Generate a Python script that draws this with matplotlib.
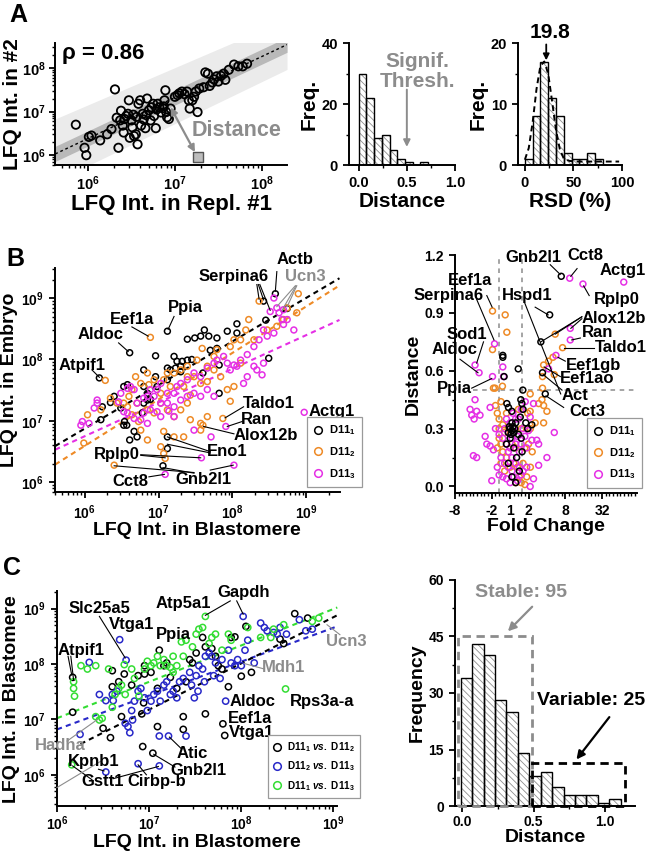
import numpy as np
import matplotlib
matplotlib.use('Agg')
import matplotlib.pyplot as plt
from matplotlib.lines import Line2D
from matplotlib.patches import Rectangle
from matplotlib.ticker import MultipleLocator, NullFormatter, FixedLocator, FixedFormatter

plt.rcParams.update({
    'font.family': ['Liberation Sans', 'DejaVu Sans'],
    'font.weight': 'bold',
    'axes.labelweight': 'bold',
    'axes.linewidth': 1.4,
    'xtick.major.width': 1.3, 'ytick.major.width': 1.3,
    'xtick.minor.width': 1.0, 'ytick.minor.width': 1.0,
    'xtick.major.size': 4.5, 'ytick.major.size': 4.5,
    'xtick.minor.size': 2.5, 'ytick.minor.size': 2.5,
    'xtick.labelsize': 10, 'ytick.labelsize': 10,
    'mathtext.fontset': 'custom',
    'mathtext.rm': 'Liberation Sans:bold',
    'mathtext.bf': 'Liberation Sans:bold',
    'mathtext.it': 'Liberation Sans:italic:bold',
    'hatch.linewidth': 0.6,
})

ORANGE = '#EE8A26'
MAGENTA = '#E52FE5'
BLUE = '#2828C8'
GREEN = '#33DD33'
GRAY = '#8C8C8C'

# ---------------- panel A: replicate scatter (log10 intensities) ----------------
a_rep1_log = [5.86, 5.96, 5.98, 6.01, 6.04, 6.14, 6.22, 6.27, 6.31, 6.33, 6.35, 6.37, 6.38, 6.40, 6.41,
              6.42, 6.44, 6.46, 6.47, 6.48, 6.50, 6.51, 6.52, 6.53, 6.55, 6.56, 6.57, 6.58, 6.60, 6.61,
              6.63, 6.64, 6.66, 6.67, 6.68, 6.70, 6.72, 6.73, 6.75, 6.76, 6.78, 6.79, 6.80, 6.82, 6.84,
              6.86, 6.87, 6.88, 6.89, 6.90, 6.91, 6.93, 6.95, 7.00, 7.03, 7.05, 7.08, 7.11, 7.14, 7.16,
              7.17, 7.20, 7.22, 7.24, 7.26, 7.28, 7.33, 7.35, 7.38, 7.40, 7.43, 7.45, 7.48, 7.50, 7.53,
              7.56, 7.58, 7.62, 7.68, 7.73, 7.78, 7.83]
a_rep2_log = [6.70, 6.17, 6.00, 6.42, 6.45, 6.34, 6.48, 6.60, 7.51, 6.86, 6.17, 6.80, 7.02, 6.68, 6.52,
              6.83, 6.90, 6.95, 7.26, 6.40, 6.80, 6.64, 6.93, 6.44, 6.48, 6.88, 6.25, 7.18, 7.26, 6.68,
              6.95, 6.82, 6.62, 6.92, 7.30, 7.03, 6.80, 7.10, 7.18, 6.90, 6.62, 7.05, 7.18, 7.10, 6.98,
              7.08, 7.12, 7.26, 7.49, 6.99, 6.87, 6.83, 7.07, 7.34, 7.38, 7.42, 7.46, 7.40, 7.46, 7.26,
              7.07, 7.26, 7.34, 7.46, 6.99, 7.53, 7.56, 7.90, 7.87, 7.59, 7.67, 7.74, 7.81, 7.69, 7.82,
              7.87, 7.73, 7.96, 8.08, 8.04, 8.04, 8.10]
a_outlier_log = (7.26, 5.96)
a_fit_x = [4.2e5, 1.95e8]
a_fit_y = [1.07e6, 3.45e8]
a_band_outer_lo = [2.5e5, 9.3e7]
a_band_outer_hi = [6.8e6, 1.3e9]
a_band_inner_lo = [7.2e5, 2.3e8]
a_band_inner_hi = [1.6e6, 5.1e8]

dist_left = [0.0, 0.08, 0.16, 0.24, 0.32, 0.40, 0.48, 0.56, 0.64]
dist_freq = [30, 22, 9, 10, 5, 2, 1, 0, 1]
rsd_left = [0, 8, 16, 24, 32, 40, 48, 56, 64, 72]
rsd_freq = [1, 8, 17, 11, 8, 2, 1, 1, 2, 1]
rsd_fit_x = [0, 4, 8, 12, 16, 20, 24, 28, 32, 36, 40, 46, 55, 70, 97]
rsd_fit_y = [0.9, 2.8, 7.0, 12.5, 16.3, 17.0, 15.0, 10.5, 5.8, 2.6, 1.1, 0.7, 0.6, 0.6, 0.6]

# ---------------- panel B left: embryo vs blastomere (log10) ----------------
b_d1 = [(8.58, 9.07), (8.42, 8.95), (8.45, 8.64), (8.49, 8.02), (8.74, 8.83), (7.12, 8.46), (6.61, 8.11),
        (6.20, 7.70), (6.96, 8.06), (6.80, 7.83), (7.12, 7.86), (7.16, 7.83), (7.39, 8.33), (7.49, 8.35),
        (7.57, 8.38), (7.62, 8.48), (7.68, 8.38), (7.79, 8.35), (7.93, 8.46), (8.06, 8.58), (8.06, 8.43),
        (7.82, 7.91), (7.79, 8.18), (7.21, 8.05), (7.25, 7.97), (7.32, 7.97), (7.39, 7.99), (7.30, 7.89),
        (7.23, 7.86), (7.12, 7.67), (6.98, 7.56), (6.85, 7.45), (6.80, 7.56), (6.53, 7.56), (6.58, 7.59),
        (6.49, 7.21), (6.54, 6.99), (6.57, 6.93), (6.61, 6.69), (6.67, 6.83), (6.71, 6.74), (6.78, 7.13),
        (6.80, 7.29), (6.85, 7.34), (6.89, 7.35), (6.22, 7.02), (6.53, 6.93), (7.12, 6.74), (7.12, 6.55),
        (7.06, 6.27), (7.82, 7.45), (6.24, 7.23), (6.96, 7.72), (7.30, 7.80), (7.45, 8.00), (7.60, 7.78),
        (7.70, 8.15), (6.40, 7.40), (6.35, 7.30)]
b_d2 = [(8.89, 9.07), (8.36, 8.95), (8.74, 8.84), (8.87, 8.76), (8.22, 8.65), (8.18, 8.48), (8.11, 8.32),
        (8.02, 8.32), (7.97, 8.21), (7.79, 8.16), (7.75, 8.05), (7.59, 8.18), (7.52, 7.99), (7.66, 7.89),
        (7.75, 7.83), (7.39, 7.89), (7.30, 7.83), (7.21, 7.78), (7.39, 7.72), (7.48, 7.72), (7.57, 7.61),
        (7.66, 7.64), (7.84, 7.72), (7.93, 7.51), (7.97, 7.32), (7.43, 7.42), (7.34, 7.56), (7.16, 7.56),
        (7.07, 7.67), (6.94, 7.67), (6.85, 7.78), (6.76, 7.61), (6.69, 7.72), (6.64, 7.51), (6.60, 7.40),
        (6.53, 7.29), (6.71, 7.29), (6.85, 7.18), (6.94, 7.13), (7.03, 7.29), (7.12, 7.18), (7.21, 7.07),
        (7.30, 7.18), (7.43, 7.02), (7.57, 6.96), (7.66, 7.07), (7.57, 6.85), (7.34, 6.74), (7.21, 6.74),
        (7.07, 6.83), (7.03, 6.58), (7.07, 6.47), (7.09, 6.39), (6.85, 6.69), (6.76, 6.85), (6.73, 6.99),
        (6.64, 7.10), (6.58, 7.23), (6.44, 7.29), (6.35, 7.37), (6.22, 7.18), (6.04, 7.10), (5.99, 6.64),
        (6.40, 6.28), (7.60, 6.93), (7.87, 7.04), (6.89, 8.36), (6.28, 7.66), (8.02, 7.56), (8.11, 7.94),
        (8.29, 8.32), (8.47, 8.48), (8.60, 8.54), (8.69, 8.65), (7.12, 7.78), (7.03, 7.45), (7.39, 7.29),
        (6.87, 7.59)]
b_d3 = [(8.56, 9.00), (8.60, 8.84), (8.51, 8.78), (8.69, 8.81), (8.63, 8.76), (8.67, 8.65), (8.74, 8.65),
        (8.83, 8.48), (8.69, 8.57), (8.56, 8.43), (8.47, 8.38), (8.42, 8.48), (8.36, 8.32), (8.29, 8.21),
        (8.20, 8.08), (8.11, 7.99), (8.02, 7.91), (7.97, 7.83), (7.88, 8.05), (7.93, 7.94), (7.79, 7.99),
        (7.75, 7.94), (7.66, 7.86), (7.57, 7.72), (7.48, 7.78), (7.39, 7.67), (7.30, 7.61), (7.25, 7.56),
        (7.21, 7.45), (7.12, 7.45), (7.03, 7.61), (6.98, 7.51), (6.89, 7.51), (6.85, 7.40), (6.80, 7.37),
        (6.71, 7.29), (6.67, 7.51), (6.62, 7.56), (6.58, 7.53), (6.49, 7.45), (7.12, 7.29), (7.21, 7.23),
        (7.30, 7.34), (7.39, 7.40), (7.48, 7.45), (7.66, 7.51), (7.75, 7.40), (7.57, 7.40), (6.94, 7.40),
        (7.03, 7.29), (7.14, 7.16), (7.21, 7.07), (7.03, 7.07), (6.98, 7.15), (6.89, 7.18), (6.80, 7.13),
        (6.76, 7.02), (6.85, 6.96), (6.67, 7.04), (6.58, 7.13), (6.53, 7.15), (6.46, 7.31), (6.17, 7.29),
        (6.17, 7.34), (6.13, 7.21), (5.97, 6.99), (5.95, 6.93), (6.06, 6.96), (7.48, 6.85), (7.71, 6.74),
        (7.91, 6.91), (7.58, 6.40), (8.02, 6.28), (7.09, 6.13), (8.97, 7.14), (8.29, 7.89), (8.33, 7.83),
        (8.42, 7.94), (8.20, 7.72), (8.15, 7.61), (8.06, 7.89), (8.40, 7.75)]
b_fit_x = [4.0e5, 2.8e9]
b_fit_d1 = [3.9e6, 2.1e9]
b_fit_d2 = [1.95e6, 1.6e9]
b_fit_d3 = [3.4e6, 4.4e8]
# label text, x, y (log10), colour
b_left_labels = [('Actb', 8.85, 9.62, 'k'), ('Serpina6', 8.02, 9.35, 'k'), ('Ucn3', 8.99, 9.35, GRAY),
                 ('Ppia', 7.36, 8.84, 'k'), ('Eef1a', 6.64, 8.65, 'k'), ('Aldoc', 6.22, 8.40, 'k'),
                 ('Atpif1', 5.97, 7.91, 'k'), ('Taldo1', 8.49, 7.29, 'k'), ('Ran', 8.33, 7.02, 'k'),
                 ('Alox12b', 8.45, 6.77, 'k'), ('Eno1', 7.93, 6.50, 'k'), ('Rplp0', 6.44, 6.46, 'k'),
                 ('Cct8', 6.62, 6.01, 'k'), ('Gnb2l1', 7.61, 6.05, 'k')]
b_left_lines = [((8.60, 9.43), (8.58, 9.11), 'k'),
                ((8.33, 9.22), (8.36, 8.98), 'k'), ((8.35, 9.22), (8.42, 8.97), 'k'), ((8.37, 9.22), (8.51, 8.80), 'k'),
                ((8.85, 9.20), (8.60, 8.86), GRAY), ((8.86, 9.20), (8.67, 8.80), GRAY), ((8.87, 9.20), (8.74, 8.86), GRAY),
                ((7.21, 8.70), (7.13, 8.49), 'k'), ((6.64, 8.53), (6.86, 8.38), 'k'), ((6.46, 8.27), (6.59, 8.13), 'k'),
                ((6.10, 7.83), (6.20, 7.71), 'k'), ((8.15, 7.23), (7.90, 7.05), 'k'), ((8.13, 6.99), (7.93, 6.91), 'k'),
                ((8.02, 6.79), (7.61, 6.91), 'k'), ((7.70, 6.50), (7.12, 6.74), 'k'), ((7.70, 6.48), (7.12, 6.62), 'k'),
                ((6.76, 6.45), (7.57, 6.40), 'k'), ((6.76, 6.44), (7.09, 6.40), 'k'), ((6.87, 6.09), (7.08, 6.13), 'k'),
                ((7.48, 6.16), (6.40, 6.27), 'k'), ((7.48, 6.15), (7.06, 6.24), 'k'), ((7.70, 6.20), (8.01, 6.28), 'k')]

# ---------------- panel B right: distance vs log2 fold change ----------------
fc_d1 = [(2.78, 1.09), (2.15, 0.89), (1.67, 0.75), (1.76, 0.59), (1.91, 0.48), (-0.40, 0.67), (-0.40, 0.68),
         (-0.33, 0.57), (0.44, 0.61), (0.69, 0.50), (0.58, 0.45), (0.64, 0.43), (-0.18, 0.43), (-0.09, 0.41),
         (0.09, 0.39), (1.18, 0.32), (0.00, 0.30), (0.10, 0.29), (0.05, 0.27), (-0.05, 0.31), (0.15, 0.31),
         (0.20, 0.28), (0.00, 0.25), (0.10, 0.33), (-0.10, 0.28), (0.25, 0.30), (0.30, 0.33), (0.45, 0.27),
         (0.60, 0.25), (0.85, 0.33), (0.55, 0.36), (0.70, 0.40), (-0.20, 0.22), (0.20, 0.20), (0.35, 0.15),
         (0.10, 0.05), (0.30, 0.02), (0.50, 0.08), (-0.10, 0.12), (0.65, 0.18), (0.95, 0.30)]
fc_d2 = [(-0.96, 0.91), (-0.27, 0.89), (-0.18, 0.80), (-0.96, 0.71), (-0.91, 0.51), (-0.82, 0.51), (-0.42, 0.52),
         (2.45, 0.79), (2.85, 0.72), (1.82, 0.63), (2.09, 0.65), (2.33, 0.67), (1.76, 0.57), (2.40, 0.58),
         (1.76, 0.51), (1.09, 0.48), (1.73, 0.45), (1.82, 0.42), (2.00, 0.39), (1.82, 0.33), (1.55, 0.43),
         (1.09, 0.39), (1.36, 0.33), (-0.80, 0.42), (-0.70, 0.38), (-0.50, 0.44), (-0.60, 0.35), (-0.40, 0.32),
         (-0.30, 0.28), (-0.60, 0.25), (-0.50, 0.22), (-0.40, 0.18), (-0.70, 0.20), (-0.50, 0.12), (-0.30, 0.08),
         (-0.20, 0.15), (0.00, 0.10), (0.20, 0.12), (0.40, 0.10), (0.50, 0.05), (0.60, 0.02), (0.70, 0.12),
         (0.80, 0.20), (0.90, 0.05), (1.00, 0.22), (1.10, 0.30), (0.95, 0.38), (0.30, 0.20), (0.10, 0.22),
         (-0.10, 0.30), (-0.20, 0.38), (0.30, 0.02), (0.80, 0.01), (1.10, 0.10), (1.20, 0.18), (-0.60, 0.30),
         (0.60, 0.30), (0.45, 0.40)]
fc_d3 = [(3.24, 1.08), (3.96, 1.05), (6.18, 1.06), (3.27, 0.82), (3.27, 0.76), (2.49, 0.68), (2.09, 0.61),
         (-0.85, 0.74), (-0.40, 0.62), (-0.36, 0.57), (-1.91, 0.63), (-1.69, 0.59), (-0.96, 0.57),
         (-2.18, 0.40), (-2.09, 0.37), (-1.82, 0.39), (-1.96, 0.35), (-1.64, 0.37), (-1.91, 0.45), (-1.09, 0.41),
         (-1.36, 0.26), (-1.27, 0.22), (-1.09, 0.21), (-0.91, 0.19), (-2.00, 0.16), (-1.82, 0.15), (-1.00, 0.03),
         (1.09, 0.00), (1.27, 0.04), (1.55, 0.11), (2.00, 0.15), (2.40, 0.28), (1.45, 0.24), (1.18, 0.24),
         (0.82, 0.44), (1.27, 0.43), (1.09, 0.36), (1.00, 0.29), (1.55, 0.22),
         (-0.80, 0.30), (-0.60, 0.27), (-0.40, 0.25), (-0.30, 0.30), (-0.20, 0.22), (-0.10, 0.28), (0.00, 0.20),
         (0.10, 0.25), (0.20, 0.30), (0.30, 0.22), (0.40, 0.26), (0.50, 0.18), (0.60, 0.22), (0.70, 0.30),
         (0.80, 0.26), (0.90, 0.20), (-0.50, 0.15), (-0.30, 0.12), (-0.10, 0.10), (0.10, 0.08), (0.30, 0.12),
         (0.50, 0.10), (0.70, 0.08), (-0.40, 0.05), (-0.20, 0.04), (0.00, 0.02), (0.20, 0.05), (0.40, 0.03),
         (0.60, 0.06), (0.90, 0.10), (-0.70, 0.10), (-0.60, 0.06), (0.10, 0.15), (-0.10, 0.18), (0.30, 0.35),
         (0.15, 0.38), (0.45, 0.35), (0.60, 0.40), (-0.20, 0.35), (0.00, 0.33)]
fc_tick_pos = [-3, -1, 0, 1, 3, 5]
fc_tick_lab = ['-8', '-2', '1', '2', '8', '32']
fc_cut = [-0.58, 0.65]
dist_cut = 0.5
b_right_labels = [('Gnb2l1', 1.27, 1.19, 'center'), ('Cct8', 4.09, 1.20, 'center'), ('Actg1', 6.13, 1.12, 'center'),
                  ('Eef1a', -2.18, 1.07, 'center'), ('Serpina6', -3.33, 0.99, 'center'), ('Hspd1', 0.91, 0.99, 'center'),
                  ('Rplp0', 5.82, 0.97, 'center'), ('Alox12b', 5.64, 0.87, 'center'), ('Ran', 4.73, 0.80, 'center'),
                  ('Taldo1', 6.00, 0.72, 'center'), ('Eef1gb', 4.55, 0.63, 'center'), ('Eef1ao', 4.18, 0.56, 'center'),
                  ('Act', 3.55, 0.47, 'center'), ('Cct3', 4.18, 0.39, 'center'), ('Sod1', -2.36, 0.79, 'center'),
                  ('Aldoc', -3.05, 0.71, 'center'), ('Ppia', -3.05, 0.51, 'center')]
b_right_lines = [((2.18, 1.15), (2.72, 1.10)), ((3.64, 1.13), (3.30, 1.09)), ((-1.27, 0.99), (-0.98, 0.93)),
                 ((-1.82, 0.97), (-0.88, 0.76)), ((1.36, 0.93), (2.07, 0.89)), ((4.30, 0.99), (4.00, 1.04)),
                 ((3.90, 0.88), (2.45, 0.79)), ((3.90, 0.88), (1.67, 0.75)), ((3.90, 0.87), (3.30, 0.82)),
                 ((3.82, 0.77), (3.35, 0.76)), ((4.55, 0.72), (2.95, 0.72)), ((3.00, 0.65), (2.60, 0.67)),
                 ((2.73, 0.57), (1.85, 0.62)), ((2.82, 0.50), (1.80, 0.58)), ((2.91, 0.41), (1.95, 0.47)),
                 ((-1.45, 0.75), (-1.82, 0.64)), ((-2.73, 0.66), (-1.75, 0.59)), ((-2.09, 0.51), (-1.00, 0.56)),
                 ((0.80, 0.95), (2.75, 0.48))]

# ---------------- panel C left: blastomere vs blastomere (log10) ----------------
c_12 = [(6.17, 7.76), (6.17, 7.13), (6.60, 7.88), (6.60, 7.59), (6.50, 6.84), (6.58, 6.67), (6.70, 7.05),
        (6.73, 7.82), (6.81, 7.62), (6.88, 7.79), (6.95, 7.82), (6.95, 7.97), (7.02, 7.85), (7.09, 7.56),
        (7.09, 6.87), (7.11, 8.25), (7.16, 7.97), (7.19, 8.02), (7.23, 7.76), (7.30, 7.56), (7.37, 7.05),
        (7.37, 6.82), (7.40, 7.68), (7.44, 8.08), (7.47, 8.02), (7.51, 8.20), (7.58, 8.48), (7.61, 8.31),
        (7.68, 8.28), (7.72, 8.14), (7.75, 7.97), (7.79, 7.91), (7.86, 7.59), (7.89, 8.48), (7.93, 8.49),
        (8.00, 7.78), (8.05, 8.68), (8.11, 7.85), (8.42, 8.45), (8.46, 8.37), (8.58, 8.91), (8.72, 8.83),
        (6.93, 6.51), (7.04, 6.39), (6.94, 7.30), (6.92, 7.10), (7.61, 7.10), (7.80, 6.92), (7.82, 6.71),
        (6.67, 7.68)]
c_23 = [(6.25, 6.73), (6.35, 8.03), (6.53, 7.34), (6.61, 7.34), (6.65, 7.51), (6.68, 8.44), (6.75, 8.07),
        (6.74, 6.93), (6.77, 6.87), (6.79, 6.76), (6.81, 7.16), (6.82, 6.99), (6.84, 7.33), (6.88, 7.51),
        (6.91, 7.56), (6.95, 7.39), (6.98, 7.16), (7.02, 7.33), (7.05, 7.45), (7.09, 7.51), (7.12, 7.33),
        (7.16, 7.62), (7.19, 7.68), (7.23, 7.45), (7.26, 7.51), (7.30, 7.39), (7.33, 7.68), (7.37, 7.74),
        (7.44, 7.85), (7.51, 7.79), (7.54, 7.97), (7.58, 7.91), (7.61, 8.14), (7.65, 8.20), (7.68, 8.14),
        (7.72, 8.02), (7.79, 8.08), (7.86, 8.25), (7.89, 8.02), (7.93, 7.97), (7.96, 8.08), (8.00, 7.97),
        (8.02, 8.86), (8.04, 8.25), (8.07, 8.43), (8.14, 8.02), (8.21, 8.74), (8.25, 8.66), (8.28, 8.60),
        (8.35, 8.57), (8.39, 8.54), (8.42, 8.66), (8.49, 8.54), (8.63, 8.80), (8.70, 8.60), (8.77, 8.63),
        (7.11, 6.70), (7.21, 6.70), (7.40, 6.70), (6.53, 6.05), (6.88, 6.20), (7.11, 6.16), (7.83, 7.33),
        (7.46, 7.62), (7.53, 7.51), (7.60, 7.68), (7.70, 7.79), (7.77, 7.74), (7.49, 7.39), (6.60, 7.45),
        (6.46, 7.45)]
c_13 = [(6.16, 6.18), (6.18, 7.68), (6.19, 7.42), (6.18, 7.56), (6.42, 7.97), (6.42, 7.05), (6.46, 6.99),
        (6.49, 7.02), (6.56, 7.91), (6.60, 7.22), (6.63, 7.45), (6.67, 7.56), (6.70, 7.62), (6.74, 7.45),
        (6.73, 7.99), (6.81, 7.91), (6.84, 7.74), (6.89, 7.42), (6.95, 7.91), (6.98, 8.05), (7.02, 7.97),
        (7.05, 8.02), (7.09, 8.14), (7.12, 7.97), (7.16, 8.08), (7.19, 7.97), (7.23, 7.94), (7.26, 7.85),
        (7.30, 7.97), (7.37, 8.14), (7.40, 8.43), (7.47, 8.31), (7.51, 8.54), (7.54, 8.63), (7.58, 8.66),
        (7.61, 8.86), (7.65, 8.37), (7.68, 8.48), (7.72, 8.54), (7.79, 8.25), (7.86, 8.54), (7.89, 8.43),
        (8.07, 8.66), (8.21, 8.48), (8.32, 8.48), (8.35, 8.63), (8.46, 8.71), (8.48, 7.55), (8.77, 8.77),
        (8.84, 8.83), (7.35, 8.40), (7.26, 8.14), (6.33, 7.91), (6.26, 7.97)]
c_fit_x = [1.0e6, 1.1e9]
c_fit_13 = [1.05e7, 1.05e9]
c_fit_23 = [6.6e6, 4.8e8]
c_fit_12_x = [1.8e6, 1.1e9]
c_fit_12 = [3.6e6, 7.6e8]
c_left_labels = [('Gapdh', 8.02, 9.29, 'k', 'center'), ('Atp5a1', 7.37, 9.09, 'k', 'center'),
                 ('Slc25a5', 6.46, 9.00, 'k', 'center'), ('Vtga1', 6.81, 8.71, 'k', 'center'),
                 ('Ppia', 7.26, 8.54, 'k', 'center'), ('Atpif1', 6.26, 8.24, 'k', 'center'),
                 ('Mdh1', 8.46, 7.94, GRAY, 'center'), ('Aldoc', 7.87, 7.33, 'k', 'left'),
                 ('Rps3a-a', 8.53, 7.33, 'k', 'left'), ('Eef1a', 7.85, 7.02, 'k', 'left'),
                 ('Vtga1', 7.87, 6.76, 'k', 'left'), ('Atic', 7.47, 6.39, 'k', 'center'),
                 ('Gnb2l1', 7.53, 6.07, 'k', 'center'), ('Kpnb1', 6.40, 6.24, 'k', 'center'),
                 ('Gstt1', 6.49, 5.87, 'k', 'center'), ('Cirbp-b', 7.08, 5.87, 'k', 'center'),
                 ('Hadha', 6.04, 6.53, GRAY, 'center'), ('Ucn3', 9.14, 8.40, GRAY, 'center')]
c_left_lines = [((7.88, 9.14), (7.61, 8.88), 'k'), ((7.95, 9.14), (8.02, 8.90), 'k'),
                ((6.46, 8.86), (6.74, 8.11), 'k'), ((6.12, 8.14), (6.16, 7.80), 'k'), ((6.15, 8.14), (6.18, 7.71), 'k'),
                ((8.25, 7.91), (8.03, 8.01), GRAY), ((7.35, 6.47), (7.22, 6.68), 'k'), ((7.28, 6.14), (7.05, 6.37), 'k'),
                ((6.45, 6.10), (6.51, 6.07), 'k'), ((6.38, 5.91), (6.17, 6.16), 'k'), ((6.61, 5.93), (7.10, 6.15), 'k'),
                ((6.97, 6.00), (6.88, 6.18), 'k'), ((6.11, 6.61), (6.44, 7.00), GRAY), ((6.00, 5.77), (6.47, 6.24), GRAY),
                ((9.07, 8.53), (8.93, 8.71), GRAY)]

# ---------------- panel C right: histogram of distance ----------------
c_dist_left = [-0.01, 0.07, 0.15, 0.23, 0.31, 0.39, 0.47, 0.55, 0.63, 0.71, 0.79, 0.87, 0.95, 1.03]
c_dist_freq = [34, 43, 40, 28, 25, 14, 8, 9, 5, 3, 3, 3, 1, 2]
stable_box = (-0.03, 0.49, 45)
variable_box = (0.49, 1.14, 11.4)


def e(v):
    return 10 ** np.asarray(v, dtype=float)


def clean(ax):
    ax.spines['top'].set_visible(False)
    ax.spines['right'].set_visible(False)
    ax.tick_params(which='both', direction='out')


def hatched_bars(ax, left, heights, width):
    ax.bar(left, heights, width=width, align='edge', color='white', edgecolor='#8f8f8f',
           hatch='\\\\\\\\\\', linewidth=0, zorder=2)
    ax.bar(left, heights, width=width, align='edge', fill=False, edgecolor='black', linewidth=1.0, zorder=3)


def open_scatter(ax, pts, color, s=18, lw=1.1, logscale=True):
    xs = [p[0] for p in pts]
    ys = [p[1] for p in pts]
    if logscale:
        xs, ys = e(xs), e(ys)
    ax.scatter(xs, ys, s=s, facecolors='none', edgecolors=color, linewidths=lw, zorder=3)


def sub(n):
    return 'D11$_{\\mathdefault{%s}}$' % n


fig = plt.figure(figsize=(6.5, 8.56), dpi=100)

# ===== A1 =====
ax = fig.add_axes([0.0846, 0.807, 0.357, 0.1425])
clean(ax)
ax.set_xscale('log')
ax.set_yscale('log')
ax.fill_between(a_fit_x, a_band_outer_lo, a_band_outer_hi, color='#ebebeb', lw=0, zorder=0)
ax.fill_between(a_fit_x, a_band_inner_lo, a_band_inner_hi, color='#b9b9b9', lw=0, zorder=1)
ax.plot(a_fit_x, a_fit_y, color='k', ls=(0, (2, 2)), lw=1.0, zorder=2)
open_scatter(ax, list(zip(a_rep1_log, a_rep2_log)), 'k', s=36, lw=1.3)
ax.scatter(e([a_outlier_log[0]]), e([a_outlier_log[1]]), marker='s', s=42, facecolor='#bdbdbd',
           edgecolor='#555555', linewidths=1.0, zorder=4)
ax.annotate('', xy=(e(6.95), e(7.10)), xytext=(e(7.23), e(6.07)),
            arrowprops=dict(arrowstyle='<|-|>', color=GRAY, lw=1.6, mutation_scale=10, shrinkA=0, shrinkB=0))
ax.text(e(7.71), e(6.57), 'Distance', color=GRAY, fontsize=15.5, ha='center', va='center')
ax.text(e(5.70), e(8.34), '\u03c1 = 0.86', fontsize=16, ha='left', va='center')
ax.set_xlim(e(5.62), e(8.29))
ax.set_ylim(e(5.77), e(8.57))
ax.tick_params(labelsize=10.5, pad=2)
ax.yaxis.set_minor_formatter(NullFormatter())
ax.xaxis.set_minor_formatter(NullFormatter())
ax.set_xlabel('LFQ Int. in Repl. #1', fontsize=16, labelpad=1)
ax.set_ylabel('LFQ Int. in #2', fontsize=15, labelpad=0)

# ===== A2 =====
ax = fig.add_axes([0.537, 0.807, 0.163, 0.1425])
clean(ax)
hatched_bars(ax, dist_left, dist_freq, 0.08)
ax.set_xlim(-0.1, 1.0)
ax.set_ylim(0, 40)
ax.xaxis.set_major_locator(MultipleLocator(0.5))
ax.xaxis.set_minor_locator(MultipleLocator(0.25))
ax.yaxis.set_major_locator(MultipleLocator(20))
ax.yaxis.set_minor_locator(MultipleLocator(10))
ax.xaxis.set_major_formatter(matplotlib.ticker.FormatStrFormatter('%.1f'))
ax.tick_params(labelsize=10.5)
ax.text(0.61, 30.7, 'Signif.\nThresh.', color=GRAY, fontsize=15, ha='center', va='center', linespacing=1.05)
ax.annotate('', xy=(0.5, 6.0), xytext=(0.5, 24.8),
            arrowprops=dict(arrowstyle='-|>', color=GRAY, lw=1.4, mutation_scale=10, shrinkA=0, shrinkB=0))
ax.set_xlabel('Distance', fontsize=15, labelpad=1)
ax.set_ylabel('Freq.', fontsize=15, labelpad=2)

# ===== A3 =====
ax = fig.add_axes([0.797, 0.807, 0.160, 0.1425])
clean(ax)
hatched_bars(ax, rsd_left, rsd_freq, 8)
ax.plot(rsd_fit_x, rsd_fit_y, color='k', ls=(0, (3, 2)), lw=1.4, zorder=4)
ax.set_xlim(-7, 100)
ax.set_ylim(0, 20)
ax.xaxis.set_major_locator(MultipleLocator(50))
ax.xaxis.set_minor_locator(MultipleLocator(25))
ax.yaxis.set_major_locator(MultipleLocator(10))
ax.yaxis.set_minor_locator(MultipleLocator(5))
ax.tick_params(labelsize=10.5)
ax.text(26, 20.2, '19.8', fontsize=15, ha='center', va='bottom', clip_on=False)
ax.annotate('', xy=(22, 17.2), xytext=(22, 19.8), annotation_clip=False,
            arrowprops=dict(arrowstyle='-|>', color='k', lw=1.3, mutation_scale=9, shrinkA=0, shrinkB=0))
ax.set_xlabel('RSD (%)', fontsize=15, labelpad=1)
ax.set_ylabel('Freq.', fontsize=15, labelpad=2)

# ===== B left =====
ax = fig.add_axes([0.0846, 0.425, 0.438, 0.262])
clean(ax)
ax.set_xscale('log')
ax.set_yscale('log')
ax.plot(b_fit_x, b_fit_d1, color='k', ls=(0, (2.5, 2)), lw=1.5, zorder=2)
ax.plot(b_fit_x, b_fit_d2, color=ORANGE, ls=(0, (2.5, 2)), lw=1.5, zorder=2)
ax.plot(b_fit_x, b_fit_d3, color=MAGENTA, ls=(0, (2.5, 2)), lw=1.5, zorder=2)
open_scatter(ax, b_d1, 'k')
open_scatter(ax, b_d2, ORANGE)
open_scatter(ax, b_d3, MAGENTA)
for name, lx, ly, col in b_left_labels:
    ax.text(e(lx), e(ly), name, color=col, fontsize=12, ha='center', va='center', zorder=5)
ax.text(e(9.03), e(7.15), 'Actg1', fontsize=12, ha='left', va='center', zorder=5, clip_on=False)
for (x0, y0), (x1, y1), col in b_left_lines:
    ax.plot(e([x0, x1]), e([y0, y1]), color=col, lw=0.8, zorder=4, clip_on=False)
ax.set_xlim(e(5.6), e(9.45))
ax.set_ylim(e(5.84), e(9.49))
ax.xaxis.set_minor_formatter(NullFormatter())
ax.yaxis.set_minor_formatter(NullFormatter())
ax.set_xlabel('LFQ Int. in Blastomere', fontsize=14, labelpad=0)
ax.set_ylabel('LFQ Int. in Embryo', fontsize=14, labelpad=2)
handles = [Line2D([], [], marker='o', ls='none', mfc='none', mec=c, mew=1.1, ms=5.5) for c in ('k', ORANGE, MAGENTA)]
leg = ax.legend(handles, [sub(1), sub(2), sub(3)], loc='lower left', bbox_to_anchor=(0.884, 0.022),
                fontsize=8, frameon=True, fancybox=False, edgecolor='#9a9a9a', framealpha=1,
                handlelength=0.8, handletextpad=0.6, borderpad=0.6, labelspacing=0.7, borderaxespad=0)
leg.get_frame().set_linewidth(0.9)
leg.set_zorder(6)

# ===== B right =====
ax = fig.add_axes([0.700, 0.424, 0.280, 0.278])
clean(ax)
ax.axvline(fc_cut[0], color=GRAY, ls=(0, (3, 3)), lw=1.1, zorder=1)
ax.axvline(fc_cut[1], color=GRAY, ls=(0, (3, 3)), lw=1.1, zorder=1)
ax.plot([-2.0, 6.9], [dist_cut, dist_cut], color=GRAY, ls=(0, (3, 3)), lw=1.1, zorder=1)
open_scatter(ax, fc_d2, ORANGE, logscale=False)
open_scatter(ax, fc_d3, MAGENTA, logscale=False)
open_scatter(ax, fc_d1, 'k', logscale=False)
for name, lx, ly, ha in b_right_labels:
    ax.text(lx, ly, name, fontsize=12, ha=ha, va='center', zorder=5, clip_on=False)
for (x0, y0), (x1, y1) in b_right_lines:
    ax.plot([x0, x1], [y0, y1], color='k', lw=0.8, zorder=4, clip_on=False)
ax.set_xlim(-3, 6.9)
ax.set_ylim(-0.034, 1.2)
ax.xaxis.set_major_locator(FixedLocator(fc_tick_pos))
ax.xaxis.set_major_formatter(FixedFormatter(fc_tick_lab))
ax.xaxis.set_minor_locator(MultipleLocator(0.2))
ax.yaxis.set_major_locator(MultipleLocator(0.3))
ax.yaxis.set_minor_locator(MultipleLocator(0.15))
ax.yaxis.set_major_formatter(matplotlib.ticker.FormatStrFormatter('%.1f'))
ax.set_xlabel('Fold Change', fontsize=14, labelpad=0)
ax.set_ylabel('Distance', fontsize=14, labelpad=2)
leg = ax.legend(handles, [sub(1), sub(2), sub(3)], loc='lower left', bbox_to_anchor=(0.725, 0.021),
                fontsize=8, frameon=True, fancybox=False, edgecolor='#9a9a9a', framealpha=1,
                handlelength=0.8, handletextpad=0.6, borderpad=0.6, labelspacing=0.7, borderaxespad=0)
leg.get_frame().set_linewidth(0.9)
leg.set_zorder(6)

# ===== C left =====
ax = fig.add_axes([0.0877, 0.058, 0.431, 0.251])
clean(ax)
ax.set_xscale('log')
ax.set_yscale('log')
ax.plot(c_fit_x, c_fit_13, color=GREEN, ls=(0, (2.5, 2)), lw=1.5, zorder=2, clip_on=False)
ax.plot(c_fit_x, c_fit_23, color=BLUE, ls=(0, (2.5, 2)), lw=1.5, zorder=2, clip_on=False)
ax.plot(c_fit_12_x, c_fit_12, color='k', ls=(0, (2.5, 2)), lw=1.5, zorder=2, clip_on=False)
open_scatter(ax, c_12, 'k', s=20)
open_scatter(ax, c_23, BLUE, s=20)
open_scatter(ax, c_13, GREEN, s=20)
for name, lx, ly, col, ha in c_left_labels:
    ax.text(e(lx), e(ly), name, color=col, fontsize=12, ha=ha, va='center', zorder=5, clip_on=False)
for (x0, y0), (x1, y1), col in c_left_lines:
    ax.plot(e([x0, x1]), e([y0, y1]), color=col, lw=0.8, zorder=4, clip_on=False)
ax.set_xlim(1e6, e(9.04))
ax.set_ylim(e(5.43), e(9.31))
ax.xaxis.set_minor_formatter(NullFormatter())
ax.yaxis.set_minor_formatter(NullFormatter())
ax.tick_params(axis='x', pad=1.5)
ax.set_xlabel('LFQ Int. in Blastomere', fontsize=14, labelpad=0.5)
ax.set_ylabel('LFQ Int. in Blastomere', fontsize=14, labelpad=2)
c_handles = [Line2D([], [], marker='o', ls='none', mfc='none', mec=c, mew=1.1, ms=5.5) for c in ('k', BLUE, GREEN)]
c_names = [sub(1) + ' $\\mathit{vs.}$ ' + sub(2), sub(2) + ' $\\mathit{vs.}$ ' + sub(3),
           sub(1) + ' $\\mathit{vs.}$ ' + sub(3)]
leg = ax.legend(c_handles, c_names, loc='lower left', bbox_to_anchor=(0.754, 0.04),
                fontsize=7.2, frameon=True, fancybox=False, edgecolor='#9a9a9a', framealpha=1,
                handlelength=0.8, handletextpad=0.6, borderpad=0.5, labelspacing=0.55, borderaxespad=0)
leg.get_frame().set_linewidth(0.9)
leg.set_zorder(6)

# ===== C right =====
ax = fig.add_axes([0.700, 0.058, 0.277, 0.265])
clean(ax)
hatched_bars(ax, c_dist_left, c_dist_freq, 0.08)
x0, x1, top = stable_box
ax.add_patch(Rectangle((x0, 0), x1 - x0, top, fill=False, ec=GRAY, ls=(0, (3, 2)), lw=2.0, zorder=4, clip_on=False))
x0, x1, top = variable_box
ax.add_patch(Rectangle((x0, 0), x1 - x0, top, fill=False, ec='k', ls=(0, (3, 2)), lw=2.0, zorder=4, clip_on=False))
ax.text(0.41, 56.5, 'Stable: 95', color=GRAY, fontsize=14, ha='center', va='center')
ax.annotate('', xy=(0.32, 46.3), xytext=(0.49, 52.8),
            arrowprops=dict(arrowstyle='-|>', color=GRAY, lw=1.6, mutation_scale=12, shrinkA=0, shrinkB=0))
ax.text(0.90, 28.0, 'Variable: 25', color='k', fontsize=14, ha='center', va='center', clip_on=False)
ax.annotate('', xy=(0.80, 12.4), xytext=(1.03, 23.6),
            arrowprops=dict(arrowstyle='-|>', color='k', lw=1.6, mutation_scale=12, shrinkA=0, shrinkB=0))
ax.set_xlim(-0.05, 1.21)
ax.set_ylim(0, 60)
ax.xaxis.set_major_locator(MultipleLocator(0.5))
ax.xaxis.set_minor_locator(MultipleLocator(0.25))
ax.xaxis.set_major_formatter(matplotlib.ticker.FormatStrFormatter('%.1f'))
ax.yaxis.set_major_locator(MultipleLocator(15))
ax.yaxis.set_minor_locator(MultipleLocator(7.5))
ax.tick_params(axis='x', pad=2)
ax.set_xlabel('Distance', fontsize=14, labelpad=0)
ax.set_ylabel('Frequency', fontsize=14, labelpad=2)

# panel letters
fig.text(0.015, 0.983, 'A', fontsize=18, fontweight='bold', va='center', ha='left')
fig.text(0.010, 0.698, 'B', fontsize=18, fontweight='bold', va='center', ha='left')
fig.text(0.004, 0.336, 'C', fontsize=18, fontweight='bold', va='center', ha='left')

fig.savefig('out.png', dpi=100)
